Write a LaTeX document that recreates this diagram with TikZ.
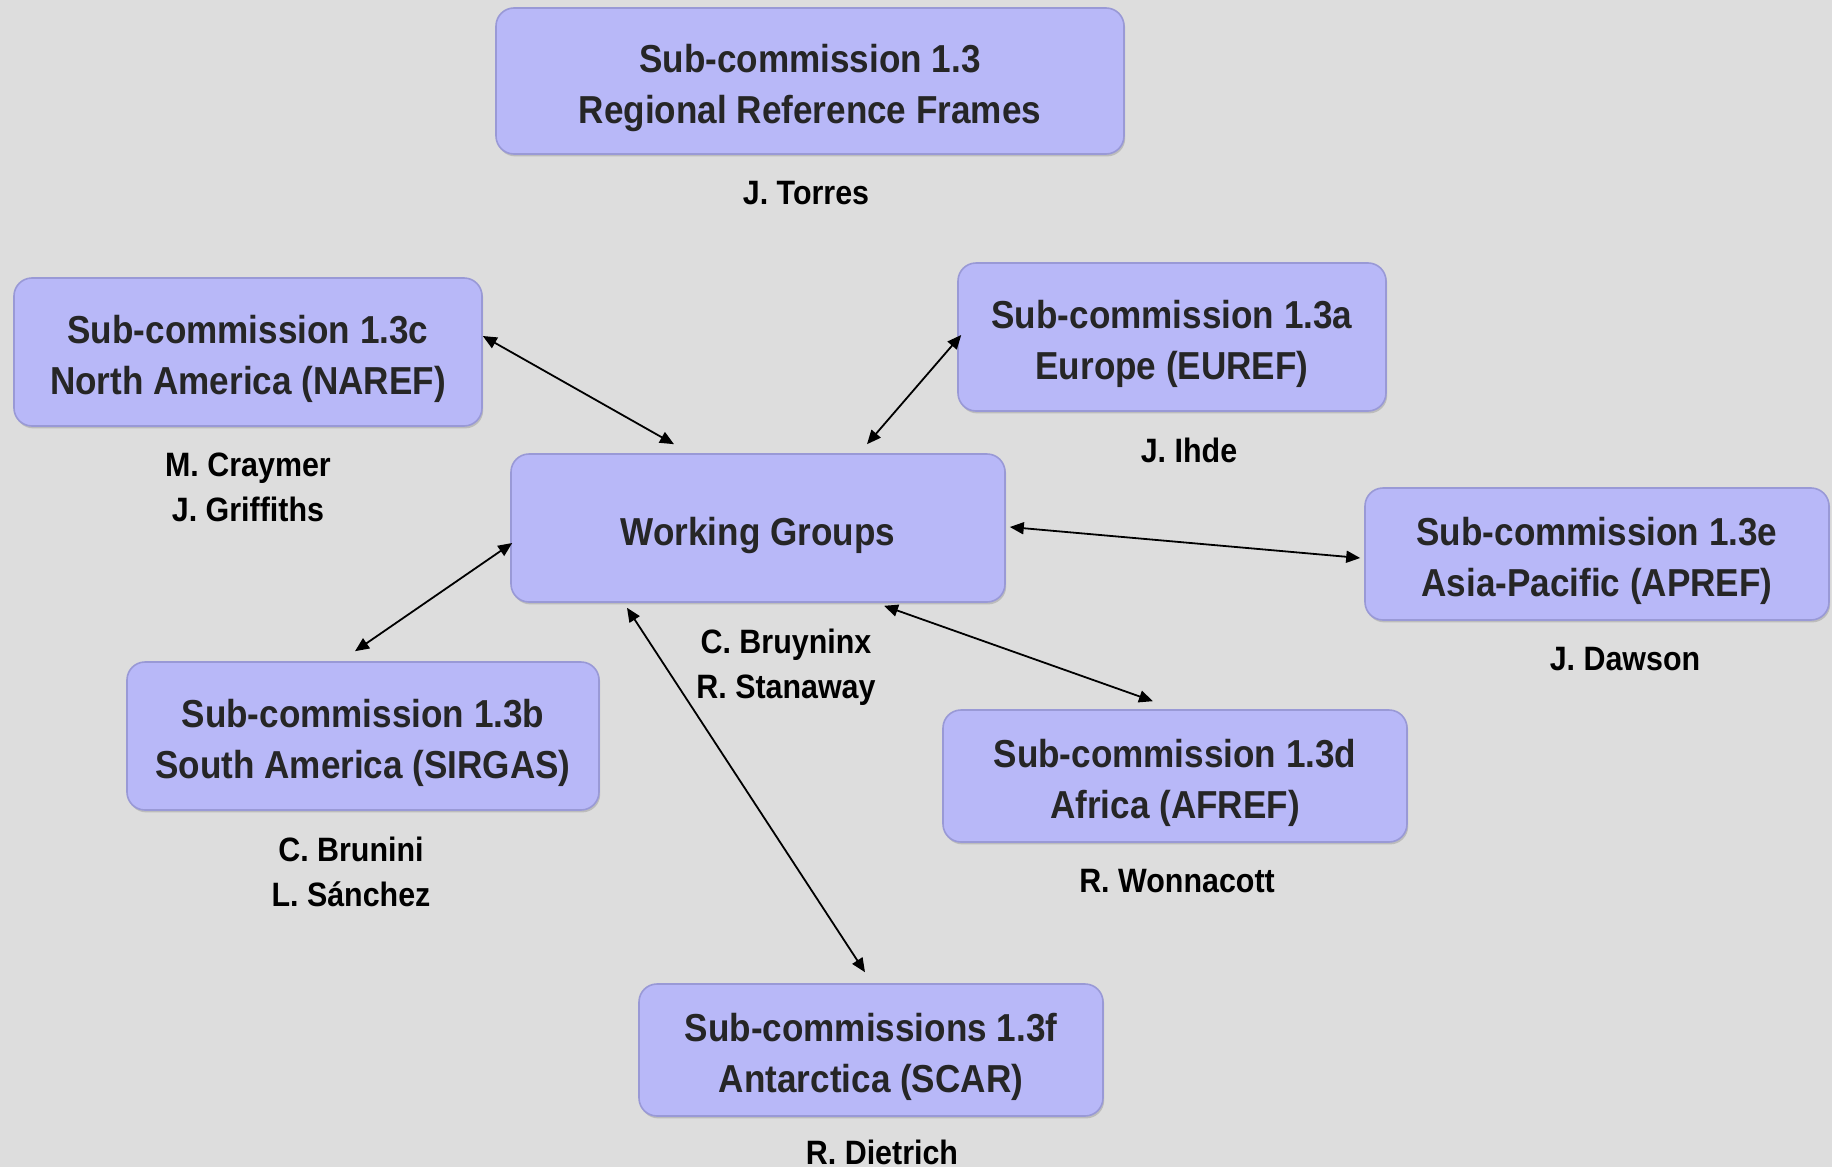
\documentclass[tikz,border=0pt]{standalone}
\usepackage{fontspec}
\setmainfont{Liberation Sans}[FakeStretch=0.9]
\usepackage{xcolor}
\usetikzlibrary{arrows.meta,positioning,shadows}

\definecolor{pagebg}{HTML}{DDDDDD}
\definecolor{boxfill}{HTML}{B8B8F8}
\definecolor{boxline}{HTML}{9999D6}
\definecolor{boxtext}{HTML}{262626}

% lifts the first line of a box so the text sits a little low
\newcommand{\boxlift}{\rule{0pt}{21.5pt}}

\begin{document}
\begin{tikzpicture}[
  x=0.5pt, y=-0.5pt,
  sub/.style={rectangle, draw=boxline, line width=0.8pt, fill=boxfill,
              rounded corners=9pt, align=center, text=boxtext,
              font=\fontsize{19.5}{25.5}\selectfont\bfseries,
              drop shadow={shadow xshift=0.6pt, shadow yshift=-1.2pt, opacity=0.35}},
  chair/.style={inner sep=0pt, align=center, text=black,
                font=\fontsize{16.9}{22.5}\selectfont\bfseries},
  arr/.style={{Triangle[length=7pt,width=6pt]}-{Triangle[length=7pt,width=6pt]},
              line width=0.9pt, black},
]

% Background
\fill[pagebg] (0,0) rectangle (1832,1167);
\useasboundingbox (0,0) rectangle (1832,1167);

% Top: Sub-commission 1.3
\node[sub, minimum width=314pt, minimum height=73pt] (sc) at (810,81)
  {\boxlift Sub-commission 1.3\\Regional Reference Frames};
\node[chair, below=13pt of sc, xshift=-2pt] {J. Torres};

% Centre: Working Groups
\node[sub, minimum width=247pt, minimum height=74pt] (wg) at (758,528)
  {\boxlift Working Groups};
\node[chair, below=13pt of wg, xshift=14pt] {C. Bruyninx\\R. Stanaway};

% Regions
\node[sub, minimum width=234pt, minimum height=74pt] (naref) at (248,352)
  {\boxlift Sub-commission 1.3c\\North America (NAREF)};
\node[chair, below=13pt of naref] {M. Craymer\\J. Griffiths};

\node[sub, minimum width=214pt, minimum height=74pt] (euref) at (1172,337)
  {\boxlift Sub-commission 1.3a\\Europe (EUREF)};
\node[chair, below=13pt of euref, xshift=8.5pt] {J. Ihde};

\node[sub, minimum width=232pt, minimum height=66pt] (apref) at (1597,554)
  {\boxlift Sub-commission 1.3e\\Asia-Pacific (APREF)};
\node[chair, below=13pt of apref, xshift=14pt] {J. Dawson};

\node[sub, minimum width=236pt, minimum height=74pt] (sirgas) at (363,736)
  {\boxlift Sub-commission 1.3b\\South America (SIRGAS)};
\node[chair, below=13pt of sirgas, xshift=-6pt] {C. Brunini\\L. Sánchez};

\node[sub, minimum width=232pt, minimum height=66pt] (afref) at (1175,776)
  {\boxlift Sub-commission 1.3d\\Africa (AFREF)};
\node[chair, below=13pt of afref, xshift=1pt] {R. Wonnacott};

\node[sub, minimum width=232pt, minimum height=66pt] (scar) at (871,1050)
  {\boxlift Sub-commissions 1.3f\\Antarctica (SCAR)};
\node[chair, below=11.5pt of scar, xshift=5.5pt] {R. Dietrich};

% Arrows
\draw[arr] ([yshift=8pt]naref.east) -- ([xshift=-42pt,yshift=4.5pt]wg.north);
\draw[arr] ([xshift=2pt,yshift=1pt]euref.west) -- ([xshift=54.5pt,yshift=4.5pt]wg.north);
\draw[arr] ([xshift=-4pt,yshift=5pt]sirgas.north) -- ([xshift=1pt,yshift=-7.5pt]wg.west);
\draw[arr] ([xshift=2pt,yshift=0.5pt]wg.east) -- ([xshift=-2pt,yshift=-2pt]apref.west);
\draw[arr] ([xshift=63pt,yshift=-1.5pt]wg.south) -- ([xshift=-11pt,yshift=4pt]afref.north);
\draw[arr] ([xshift=-65.5pt,yshift=-2.5pt]wg.south) -- ([xshift=-3pt,yshift=5.5pt]scar.north);

\end{tikzpicture}
\end{document}
